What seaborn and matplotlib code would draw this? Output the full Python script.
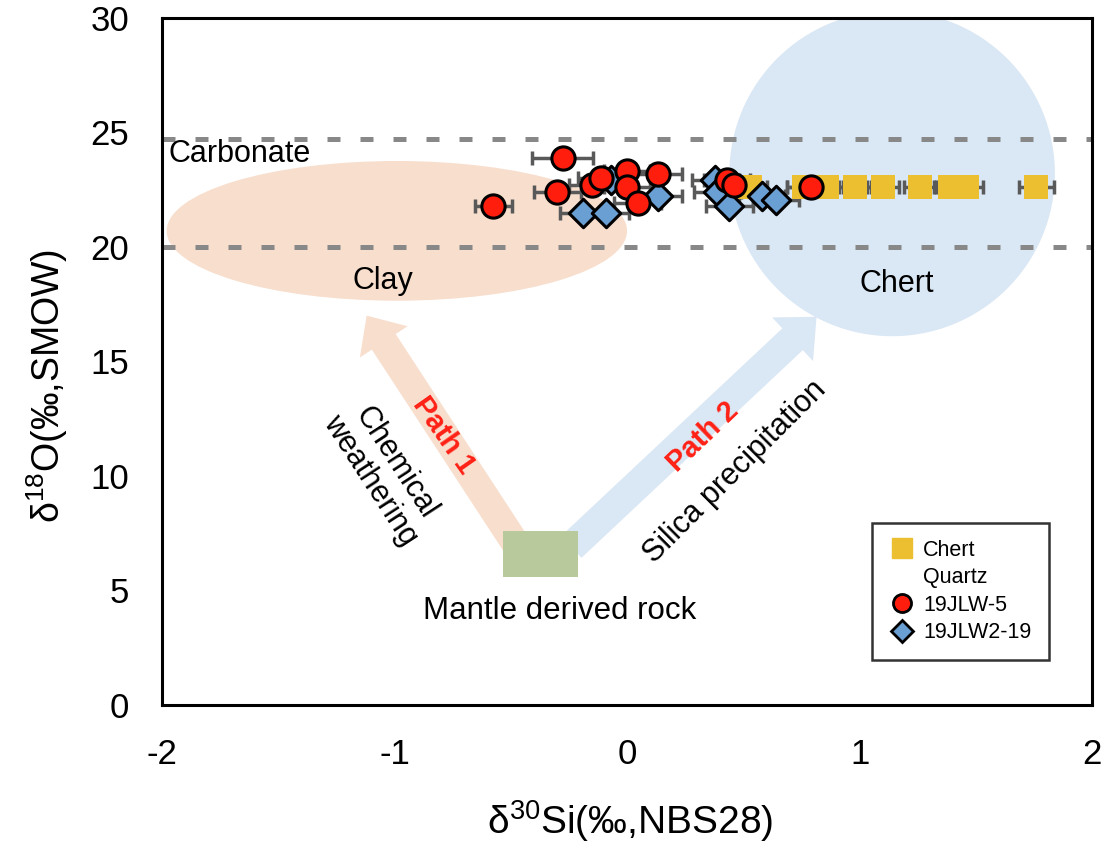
import pandas as pd
import matplotlib.pyplot as plt
import seaborn as sns
from matplotlib.patches import Ellipse, Rectangle, FancyArrowPatch
from matplotlib.lines import Line2D

sns.set_theme(style="white")
plt.rcParams['font.family'] = ['Liberation Sans', 'DejaVu Sans']
plt.rcParams['mathtext.fontset'] = 'custom'
plt.rcParams['mathtext.rm'] = 'Liberation Sans'
plt.rcParams['axes.unicode_minus'] = False
plt.rcParams['text.color'] = 'black'
plt.rcParams['axes.labelcolor'] = 'black'

# ------------------ DATA ------------------ #
chert_x = [0.53, 0.76, 0.86, 0.98, 1.10, 1.26, 1.39, 1.46, 1.76]
chert_y = [22.6, 22.6, 22.6, 22.6, 22.6, 22.6, 22.6, 22.6, 22.6]
chert_xerr = [0.07, 0.07, 0.07, 0.07, 0.07, 0.07, 0.07, 0.07, 0.075]

red_x = [-0.575, -0.30, -0.277, -0.15, -0.11, 0.0, 0.0, 0.045, 0.135, 0.43, 0.46, 0.79]
red_y = [21.8, 22.4, 23.9, 22.7, 23.0, 23.3, 22.6, 21.9, 23.2, 22.9, 22.7, 22.6]
red_xerr = [0.08, 0.1, 0.13, 0.1, 0.1, 0.1, 0.1, 0.1, 0.1, 0.1, 0.1, 0.1]

blue_x = [-0.19, -0.09, -0.07, 0.135, 0.38, 0.39, 0.44, 0.58, 0.64]
blue_y = [21.5, 21.5, 22.9, 22.2, 22.9, 22.4, 21.8, 22.2, 22.05]
blue_xerr = [0.1, 0.1, 0.1, 0.1, 0.1, 0.1, 0.1, 0.1, 0.1]

carbonate_lines = [24.7, 20.0]
x_ticks = [-2, -1, 0, 1, 2]
y_ticks = [0, 5, 10, 15, 20, 25, 30]

df_chert = pd.DataFrame({'x': chert_x, 'y': chert_y})
df_red = pd.DataFrame({'x': red_x, 'y': red_y})
df_blue = pd.DataFrame({'x': blue_x, 'y': blue_y})

clay_c = '#F8DECD'
chert_c = '#DAE7F4'

# ------------------ FIGURE ------------------ #
fig = plt.figure(figsize=(11.11, 8.49), dpi=100)
ax = fig.add_axes([0.1458, 0.1696, 0.8372, 0.8094])

# fields
ax.add_patch(Ellipse((-0.99, 20.7), 1.98, 6.1, color=clay_c, lw=0, zorder=1))
ax.add_patch(Ellipse((1.14, 23.2), 1.40, 14.2, color=chert_c, lw=0, zorder=1))

# arrows
arrow_style = "simple,head_length=0.55,head_width=1.0,tail_width=0.5"
ax.add_patch(FancyArrowPatch((-0.47, 6.9), (-1.12, 17.0), arrowstyle=arrow_style,
                             mutation_scale=41, color=clay_c, lw=0,
                             shrinkA=0, shrinkB=0, zorder=1.5))
ax.add_patch(FancyArrowPatch((-0.24, 6.9), (0.815, 16.95), arrowstyle=arrow_style,
                             mutation_scale=43, color=chert_c, lw=0,
                             shrinkA=0, shrinkB=0, zorder=1.5))
ax.add_patch(Rectangle((-0.535, 5.6), 0.325, 2.0, color='#B8C99B', lw=0, zorder=2))

# carbonate band
for yv in carbonate_lines:
    ax.axhline(yv, color='#888888', lw=3.6, dashes=(2.6, 4.0), zorder=2.5)

# error bars
for xs, ys, xe in [(chert_x, chert_y, chert_xerr), (blue_x, blue_y, blue_xerr),
                   (red_x, red_y, red_xerr)]:
    ax.errorbar(xs, ys, xerr=xe, fmt='none', ecolor='#595959', elinewidth=2.5,
                capsize=5, capthick=2.5, zorder=3)

sns.scatterplot(data=df_chert, x='x', y='y', ax=ax, marker='s', s=300,
                color='#EBBF30', edgecolor='none', linewidth=0, zorder=4)
sns.scatterplot(data=df_blue, x='x', y='y', ax=ax, marker='D', s=210,
                color='#6A9FD4', edgecolor='black', linewidth=2.2, zorder=5)
sns.scatterplot(data=df_red, x='x', y='y', ax=ax, marker='o', s=280,
                color='#FF1E0E', edgecolor='black', linewidth=2.2, zorder=6)

# labels
ax.text(-1.97, 24.05, 'Carbonate', fontsize=22, ha='left', va='center', zorder=7)
ax.text(-1.05, 18.5, 'Clay', fontsize=22, ha='center', va='center', zorder=7)
ax.text(1.16, 18.4, 'Chert', fontsize=22, ha='center', va='center', zorder=7)
ax.text(-0.29, 4.1, 'Mantle derived rock', fontsize=22.5, ha='center', va='center', zorder=7)
ax.text(-0.79, 11.8, 'Path 1', fontsize=21, fontweight='bold', color='#FF2015',
        rotation=-55, ha='center', va='center', rotation_mode='anchor', zorder=7)
ax.text(-1.05, 10.2, 'Chemical\nweathering', fontsize=22, rotation=-57,
        ha='center', va='center', rotation_mode='anchor', linespacing=1.05, zorder=7)
ax.text(0.325, 11.7, 'Path 2', fontsize=21, fontweight='bold', color='#FF2015',
        rotation=44, ha='center', va='center', rotation_mode='anchor', zorder=7)
ax.text(0.462, 10.2, 'Silica precipitation', fontsize=22, rotation=45,
        ha='center', va='center', rotation_mode='anchor', zorder=7)

# axes
ax.set_xlim(-2, 2)
ax.set_ylim(0, 30)
ax.set_xticks(x_ticks)
ax.set_xticklabels([str(t) for t in x_ticks])
ax.set_yticks(y_ticks)
ax.tick_params(axis='both', direction='inout', length=19, width=2, labelsize=25,
               colors='black', pad=14)
for sp in ax.spines.values():
    sp.set_linewidth(2.2)
    sp.set_color('black')
ax.set_xlabel('δ$^{30}$Si(‰,NBS28)', fontsize=28)
ax.set_ylabel('δ$^{18}$O(‰,SMOW)', fontsize=27)
ax.xaxis.set_label_coords(0.503, -0.135)
ax.yaxis.set_label_coords(-0.099, 0.465)

# legend
handles = [
    Line2D([], [], marker='s', ls='none', color='#EBBF30', markersize=14),
    Line2D([], [], ls='none', marker=None),
    Line2D([], [], marker='o', ls='none', markerfacecolor='#FF1E0E',
           markeredgecolor='black', markeredgewidth=2, markersize=13),
    Line2D([], [], marker='D', ls='none', markerfacecolor='#6A9FD4',
           markeredgecolor='black', markeredgewidth=2, markersize=11),
]
labels = ['Chert', 'Quartz', '19JLW-5', '19JLW2-19']
leg = ax.legend(handles, labels, loc='lower left', bbox_to_anchor=(0.763, 0.065),
                fontsize=15.5, frameon=True, fancybox=False, edgecolor='black',
                handletextpad=0.4, handlelength=1.2, labelspacing=0.3,
                borderpad=0.8, borderaxespad=0)
leg.get_frame().set_linewidth(1.8)
leg.set_zorder(8)

fig.savefig('out.png', dpi=100)
